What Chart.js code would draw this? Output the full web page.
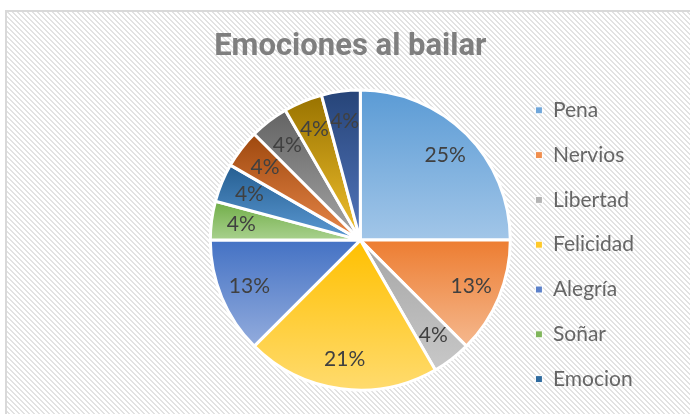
<!DOCTYPE html>
<html>
<head>
<meta charset="utf-8">
<script src="https://cdn.jsdelivr.net/npm/chart.js@4"></script>
<style>
  html, body { margin: 0; padding: 0; background: #fff; }
  #frame {
    position: absolute; left: 5px; top: 10px; width: 720px; height: 440px;
    border: 2px solid #d9d9d9;
  }
  #wrap { position: absolute; left: 0; top: 0; width: 690px; height: 414px; }
</style>
</head>
<body>
<div id="frame"></div>
<div id="wrap"><canvas id="chart" width="690" height="414"></canvas></div>
<script>
// ---------- data ----------
const labels = ["Pena", "Nervios", "Libertad", "Felicidad", "Alegría", "Soñar", "Emocion",
  "Otra 1", "Otra 2", "Otra 3", "Otra 4"];
const counts = [6, 3, 1, 5, 3, 1, 1, 1, 1, 1, 1];
const legendCount = 7; // Excel legend only shows the first seven

// gradient colours, top -> bottom of each slice
const topColors = ["#5B9BD5", "#ED7D31", "#A5A5A5", "#FFC000", "#4472C4", "#70AD47",
  "#255E91", "#9E480E", "#636363", "#997300", "#264478"];
const bottomColors = ["#A2C6E8", "#F5B88E", "#C8C8C8", "#FFDB6E", "#93ACDD", "#A9D18E",
  "#5C9AD4", "#E9884A", "#A6A6A6", "#F2C12E", "#5477BE"];
const legendColors = ["#6FA6DA", "#F08E4D", "#B3B3B3", "#FFC929", "#5B80C9", "#80B65B", "#2E6A9E"];

let gradients = [];

// ---------- hatched chart background ----------
(function () {
  const tile = document.createElement("canvas");
  tile.width = 5; tile.height = 5;
  const t = tile.getContext("2d");
  t.fillStyle = "#ffffff";
  t.fillRect(0, 0, 5, 5);
  t.fillStyle = "#e2e2e2";
  for (let y = 0; y < 5; y++) {
    for (let x = 0; x < 5; x++) {
      const d = ((x - y) % 5 + 5) % 5;
      if (d === 0 || d === 1) t.fillRect(x, y, 1, 1);
    }
  }
  document.getElementById("frame").style.backgroundImage = "url(" + tile.toDataURL() + ")";
})();

// ---------- helpers ----------
function sliceGradient(ctx, arc, i) {
  const { x, y, startAngle, endAngle, outerRadius } = arc;
  let top = y, bottom = y;
  const angles = [startAngle, endAngle];
  for (let k = -2; k <= 2; k++) {
    [-Math.PI / 2, Math.PI / 2].forEach(a => {
      const t = a + 2 * Math.PI * k;
      if (t > startAngle && t < endAngle) angles.push(t);
    });
  }
  angles.forEach(a => {
    const py = y + outerRadius * Math.sin(a);
    top = Math.min(top, py);
    bottom = Math.max(bottom, py);
  });
  const g = ctx.createLinearGradient(0, top, 0, bottom);
  g.addColorStop(0, topColors[i]);
  g.addColorStop(1, bottomColors[i]);
  return g;
}

// percentage labels inside the slices
const pctLabels = {
  id: "pctLabels",
  afterDatasetsDraw(chart) {
    const ctx = chart.ctx;
    const meta = chart.getDatasetMeta(0);
    const total = counts.reduce((a, b) => a + b, 0);
    ctx.save();
    ctx.font = "21px Lato";
    ctx.fillStyle = "#404040";
    ctx.textAlign = "center";
    ctx.textBaseline = "middle";
    meta.data.forEach((arc, i) => {
      const mid = (arc.startAngle + arc.endAngle) / 2;
      const r = arc.outerRadius * 0.8;
      ctx.fillText(Math.round(counts[i] / total * 100) + "%",
        arc.x + Math.cos(mid) * r, arc.y + Math.sin(mid) * r);
    });
    ctx.restore();
  }
};

// Excel centres the title a bit left of the pie
const titleShift = {
  id: "titleShift",
  afterLayout(chart) {
    if (chart.titleBlock) {
      chart.titleBlock.left -= 10;
      chart.titleBlock.right -= 10;
    }
  }
};

const chart = new Chart(document.getElementById("chart"), {
  type: "pie",
  data: {
    labels,
    datasets: [{
      data: counts,
      backgroundColor: c => gradients[c.dataIndex] || topColors[c.dataIndex],
      borderColor: "#ffffff",
      borderWidth: 3
    }]
  },
  options: {
    responsive: false,
    animation: false,
    radius: 150,
    layout: { padding: { left: 209, right: 46, top: 0, bottom: 0 } },
    plugins: {
      title: {
        display: true,
        text: "Emociones al bailar",
        fullSize: false,
        color: "#7f7f7f",
        font: { family: "Roboto", size: 31, weight: "bold" },
        padding: { top: 29, bottom: 0 }
      },
      legend: {
        position: "right",
        fullSize: false,
        title: { display: true, text: "", font: { size: 1 }, padding: { top: 8, bottom: 0 } },
        labels: {
          boxWidth: 7,
          boxHeight: 7,
          padding: 23.8,
          color: "#595959",
          font: { family: "Lato", size: 21 },
          generateLabels: ch => ch.data.labels.slice(0, legendCount).map((text, i) => ({
            text,
            fillStyle: legendColors[i],
            strokeStyle: "#ffffff",
            lineWidth: 1,
            hidden: false,
            index: i
          }))
        }
      },
      tooltip: { enabled: false }
    }
  },
  plugins: [pctLabels, titleShift]
});

// build the per-slice vertical gradients once the arcs have their geometry
gradients = chart.getDatasetMeta(0).data.map((arc, i) => sliceGradient(chart.ctx, arc, i));
chart.update("none");
</script>
</body>
</html>
